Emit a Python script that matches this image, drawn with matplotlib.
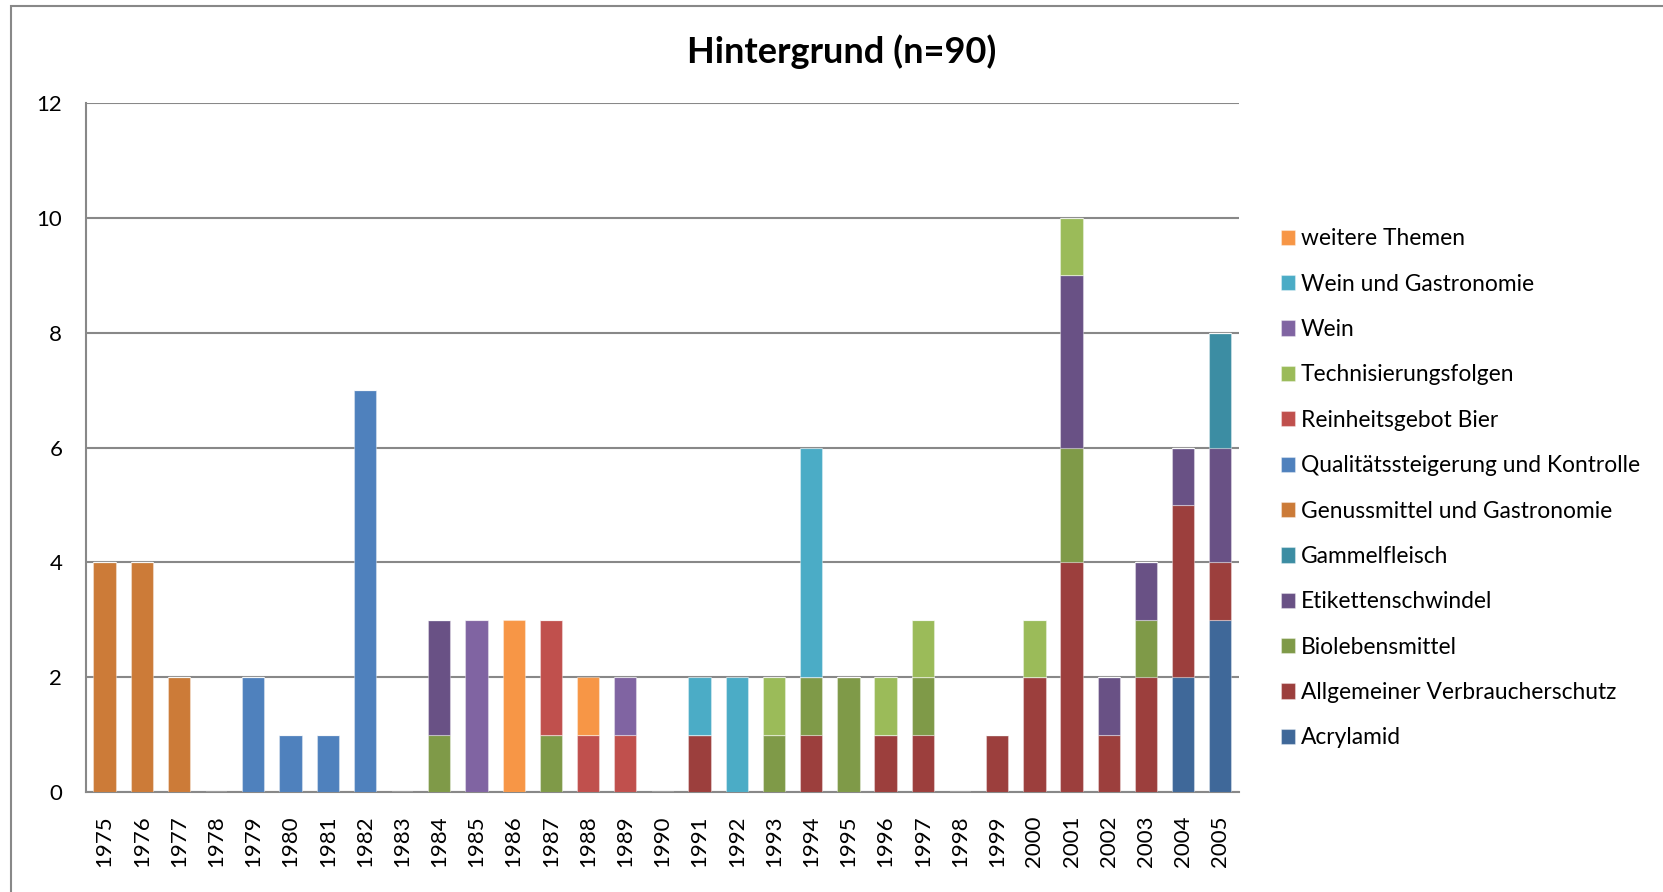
import numpy as np
import matplotlib
matplotlib.use("Agg")
import matplotlib.pyplot as plt
from matplotlib.patches import Rectangle

plt.rcParams['font.family'] = ['Lato', 'DejaVu Sans']

years = [str(y) for y in range(1975, 2006)]

# series in stacking order (bottom to top)
series_names = [
    'Acrylamid', 'Allgemeiner Verbraucherschutz', 'Biolebensmittel',
    'Etikettenschwindel', 'Gammelfleisch', 'Genussmittel und Gastronomie',
    'Qualitätssteigerung und Kontrolle', 'Reinheitsgebot Bier',
    'Technisierungsfolgen', 'Wein', 'Wein und Gastronomie', 'weitere Themen',
]
colors = ['#3F6899', '#9C3F3D', '#7F9A48', '#695185', '#3C8DA3', '#CC7B38',
          '#4F81BD', '#C0504D', '#9BBB59', '#8064A2', '#4BACC6', '#F79646']

#                 75 76 77 78 79 80 81 82 83 84 85 86 87 88 89 90 91 92 93 94 95 96 97 98 99 00 01 02 03 04 05
acrylamid       = [0, 0, 0, 0, 0, 0, 0, 0, 0, 0, 0, 0, 0, 0, 0, 0, 0, 0, 0, 0, 0, 0, 0, 0, 0, 0, 0, 0, 0, 2, 3]
allgemein       = [0, 0, 0, 0, 0, 0, 0, 0, 0, 0, 0, 0, 0, 0, 0, 0, 1, 0, 0, 1, 0, 1, 1, 0, 1, 2, 4, 1, 2, 3, 1]
bio             = [0, 0, 0, 0, 0, 0, 0, 0, 0, 1, 0, 0, 1, 0, 0, 0, 0, 0, 1, 1, 2, 0, 1, 0, 0, 0, 2, 0, 1, 0, 0]
etiketten       = [0, 0, 0, 0, 0, 0, 0, 0, 0, 2, 0, 0, 0, 0, 0, 0, 0, 0, 0, 0, 0, 0, 0, 0, 0, 0, 3, 1, 1, 1, 2]
gammelfleisch   = [0, 0, 0, 0, 0, 0, 0, 0, 0, 0, 0, 0, 0, 0, 0, 0, 0, 0, 0, 0, 0, 0, 0, 0, 0, 0, 0, 0, 0, 0, 2]
genussmittel    = [4, 4, 2, 0, 0, 0, 0, 0, 0, 0, 0, 0, 0, 0, 0, 0, 0, 0, 0, 0, 0, 0, 0, 0, 0, 0, 0, 0, 0, 0, 0]
qualitaet       = [0, 0, 0, 0, 2, 1, 1, 7, 0, 0, 0, 0, 0, 0, 0, 0, 0, 0, 0, 0, 0, 0, 0, 0, 0, 0, 0, 0, 0, 0, 0]
reinheitsgebot  = [0, 0, 0, 0, 0, 0, 0, 0, 0, 0, 0, 0, 2, 1, 1, 0, 0, 0, 0, 0, 0, 0, 0, 0, 0, 0, 0, 0, 0, 0, 0]
technisierung   = [0, 0, 0, 0, 0, 0, 0, 0, 0, 0, 0, 0, 0, 0, 0, 0, 0, 0, 1, 0, 0, 1, 1, 0, 0, 1, 1, 0, 0, 0, 0]
wein            = [0, 0, 0, 0, 0, 0, 0, 0, 0, 0, 3, 0, 0, 0, 1, 0, 0, 0, 0, 0, 0, 0, 0, 0, 0, 0, 0, 0, 0, 0, 0]
wein_gastro     = [0, 0, 0, 0, 0, 0, 0, 0, 0, 0, 0, 0, 0, 0, 0, 0, 1, 2, 0, 4, 0, 0, 0, 0, 0, 0, 0, 0, 0, 0, 0]
weitere         = [0, 0, 0, 0, 0, 0, 0, 0, 0, 0, 0, 3, 0, 1, 0, 0, 0, 0, 0, 0, 0, 0, 0, 0, 0, 0, 0, 0, 0, 0, 0]

data = [acrylamid, allgemein, bio, etiketten, gammelfleisch, genussmittel,
        qualitaet, reinheitsgebot, technisierung, wein, wein_gastro, weitere]

fig = plt.figure(figsize=(16.63, 8.92), dpi=100)
ax = fig.add_axes([0.0517, 0.112, 0.6933, 0.7725])

# outer chart border
fig.patches.append(Rectangle((11 / 1663, -0.05), 1.2, 1 - 6 / 892 + 0.05,
                             transform=fig.transFigure, fill=False,
                             edgecolor='#888888', linewidth=1.5))

x = np.arange(len(years))
bottom = np.zeros(len(years))
handles = []
for name, vals, col in zip(series_names, data, colors):
    vals = np.array(vals, dtype=float)
    b = ax.bar(x, vals, 0.6, bottom=bottom, color=col, label=name,
               edgecolor=(1, 1, 1, 0.35), linewidth=0.8, zorder=3)
    handles.append(b)
    bottom += vals

ax.set_xlim(-0.5, len(years) - 0.5)
ax.set_ylim(0, 12)
ax.set_yticks(range(0, 13, 2))
ax.set_xticks(x)
ax.set_xticklabels(years, rotation=90, fontsize=16)
ax.tick_params(axis='y', labelsize=16, length=0, pad=17)
ax.tick_params(axis='x', length=0, pad=17)
ax.grid(axis='y', color='#888888', linewidth=1.5, zorder=0)
for s in ['top', 'right']:
    ax.spines[s].set_visible(False)
ax.spines['left'].set_color('#888888')
ax.spines['bottom'].set_color('#888888')
ax.spines['left'].set_linewidth(1.5)
ax.spines['bottom'].set_linewidth(1.5)

fig.text(0.506, 0.9426, 'Hintergrund (n=90)', ha='center', va='center',
         fontsize=26, fontweight='bold')

leg = fig.legend(handles[::-1], series_names[::-1], loc='upper left',
                 bbox_to_anchor=(0.7577, 0.767), frameon=False, fontsize=16.4,
                 handlelength=0.65, handleheight=0.65, handletextpad=0.25,
                 labelspacing=1.07)

fig.savefig('out.png', dpi=100)
